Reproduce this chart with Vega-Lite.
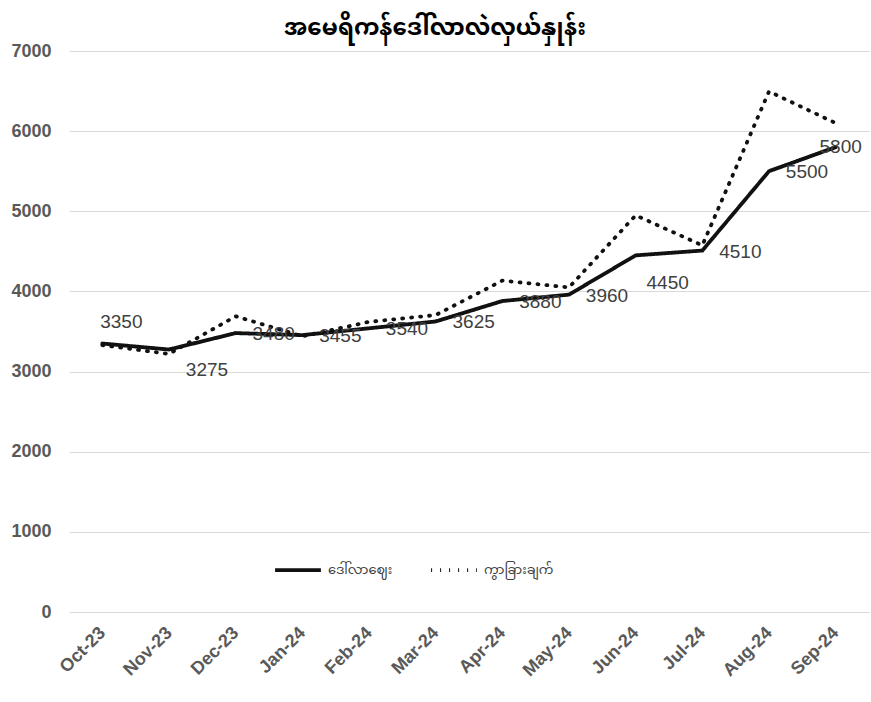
{
  "$schema": "https://vega.github.io/schema/vega-lite/v6.json",
  "width": 800,
  "height": 561,
  "autosize": {"type": "none"},
  "padding": {"left": 69, "top": 51, "right": 2, "bottom": 90},
  "background": "white",
  "title": {
    "text": "အမေရိကန်ဒေါ်လာလဲလှယ်နှုန်း",
    "fontSize": 23,
    "font": "Noto Sans Myanmar, Noto Sans",
    "fontWeight": "bold",
    "color": "#000000",
    "anchor": "middle",
    "dx": -34,
    "offset": 2
  },
  "data": {
    "values": [
      {"month": "Oct-23", "series": "ဒေါ်လာဈေး", "value": 3350},
      {"month": "Nov-23", "series": "ဒေါ်လာဈေး", "value": 3275},
      {"month": "Dec-23", "series": "ဒေါ်လာဈေး", "value": 3480},
      {"month": "Jan-24", "series": "ဒေါ်လာဈေး", "value": 3455},
      {"month": "Feb-24", "series": "ဒေါ်လာဈေး", "value": 3540},
      {"month": "Mar-24", "series": "ဒေါ်လာဈေး", "value": 3625},
      {"month": "Apr-24", "series": "ဒေါ်လာဈေး", "value": 3880},
      {"month": "May-24", "series": "ဒေါ်လာဈေး", "value": 3960},
      {"month": "Jun-24", "series": "ဒေါ်လာဈေး", "value": 4450},
      {"month": "Jul-24", "series": "ဒေါ်လာဈေး", "value": 4510},
      {"month": "Aug-24", "series": "ဒေါ်လာဈေး", "value": 5500},
      {"month": "Sep-24", "series": "ဒေါ်လာဈေး", "value": 5800},
      {"month": "Oct-23", "series": "ကွာခြားချက်", "value": 3330},
      {"month": "Nov-23", "series": "ကွာခြားချက်", "value": 3220},
      {"month": "Dec-23", "series": "ကွာခြားချက်", "value": 3690},
      {"month": "Jan-24", "series": "ကွာခြားချက်", "value": 3440},
      {"month": "Feb-24", "series": "ကွာခြားချက်", "value": 3620},
      {"month": "Mar-24", "series": "ကွာခြားချက်", "value": 3705},
      {"month": "Apr-24", "series": "ကွာခြားချက်", "value": 4135},
      {"month": "May-24", "series": "ကွာခြားချက်", "value": 4050},
      {"month": "Jun-24", "series": "ကွာခြားချက်", "value": 4950},
      {"month": "Jul-24", "series": "ကွာခြားချက်", "value": 4575},
      {"month": "Aug-24", "series": "ကွာခြားချက်", "value": 6495},
      {"month": "Sep-24", "series": "ကွာခြားချက်", "value": 6100}
    ]
  },
  "encoding": {
    "x": {
      "field": "month",
      "type": "ordinal",
      "sort": null,
      "scale": {"type": "point", "padding": 0.5},
      "axis": {
        "title": null,
        "labelAngle": -45,
        "labelAlign": "right",
        "labelBaseline": "middle",
        "labelFont": "Liberation Sans",
        "labelFontSize": 18,
        "labelFontWeight": "bold",
        "labelColor": "#595959",
        "labelPadding": 18,
        "ticks": false,
        "domain": false,
        "grid": false
      }
    },
    "y": {
      "field": "value",
      "type": "quantitative",
      "scale": {"domain": [0, 7000], "nice": false},
      "axis": {
        "title": null,
        "values": [0, 1000, 2000, 3000, 4000, 5000, 6000, 7000],
        "format": "d",
        "labelFont": "Liberation Sans",
        "labelFontSize": 18,
        "labelFontWeight": "bold",
        "labelColor": "#595959",
        "labelPadding": 18,
        "ticks": false,
        "domain": false,
        "grid": true,
        "gridColor": "#d9d9d9",
        "gridWidth": 1.2
      }
    }
  },
  "layer": [
    {
      "mark": {"type": "line", "color": "#111111", "strokeWidth": 3.8, "strokeCap": "round"},
      "encoding": {
        "detail": {"field": "series"},
        "strokeDash": {
          "field": "series",
          "type": "nominal",
          "scale": {
            "domain": ["ဒေါ်လာဈေး", "ကွာခြားချက်"],
            "range": [[1, 0], [1, 8]]
          },
          "legend": {
            "title": null,
            "orient": "none",
            "direction": "horizontal",
            "legendX": 204,
            "legendY": 494,
            "symbolType": "stroke",
            "symbolSize": 2100,
            "symbolStrokeWidth": 3.8,
            "symbolStrokeColor": "#111111",
            "labelFont": "Noto Sans Myanmar, Noto Sans",
            "labelFontSize": 13,
            "labelColor": "#404040",
            "labelOffset": 5,
            "columnPadding": 30
          }
        }
      }
    },
    {
      "transform": [
        {"filter": "datum.series === 'ဒေါ်လာဈေး'"},
        {"filter": {"field": "month", "oneOf": ["Dec-23", "Jan-24", "Feb-24", "Mar-24", "Apr-24", "May-24", "Jul-24", "Aug-24"]}}
      ],
      "mark": {"type": "text", "dx": 38, "dy": 1, "font": "Liberation Sans", "fontSize": 19, "color": "#404040"},
      "encoding": {"text": {"field": "value", "type": "quantitative"}}
    },
    {
      "transform": [
        {"filter": "datum.series === 'ဒေါ်လာဈေး' && datum.month === 'Oct-23'"}
      ],
      "mark": {"type": "text", "dx": 19, "dy": -22, "font": "Liberation Sans", "fontSize": 19, "color": "#404040"},
      "encoding": {"text": {"field": "value", "type": "quantitative"}}
    },
    {
      "transform": [
        {"filter": "datum.series === 'ဒေါ်လာဈေး' && datum.month === 'Nov-23'"}
      ],
      "mark": {"type": "text", "dx": 38, "dy": 20, "font": "Liberation Sans", "fontSize": 19, "color": "#404040"},
      "encoding": {"text": {"field": "value", "type": "quantitative"}}
    },
    {
      "transform": [
        {"filter": "datum.series === 'ဒေါ်လာဈေး' && datum.month === 'Jun-24'"}
      ],
      "mark": {"type": "text", "dx": 32, "dy": 28, "font": "Liberation Sans", "fontSize": 19, "color": "#404040"},
      "encoding": {"text": {"field": "value", "type": "quantitative"}}
    },
    {
      "transform": [
        {"filter": "datum.series === 'ဒေါ်လာဈေး' && datum.month === 'Sep-24'"}
      ],
      "mark": {"type": "text", "dx": 5, "dy": 0, "font": "Liberation Sans", "fontSize": 19, "color": "#404040"},
      "encoding": {"text": {"field": "value", "type": "quantitative"}}
    }
  ],
  "config": {"view": {"stroke": null}}
}
